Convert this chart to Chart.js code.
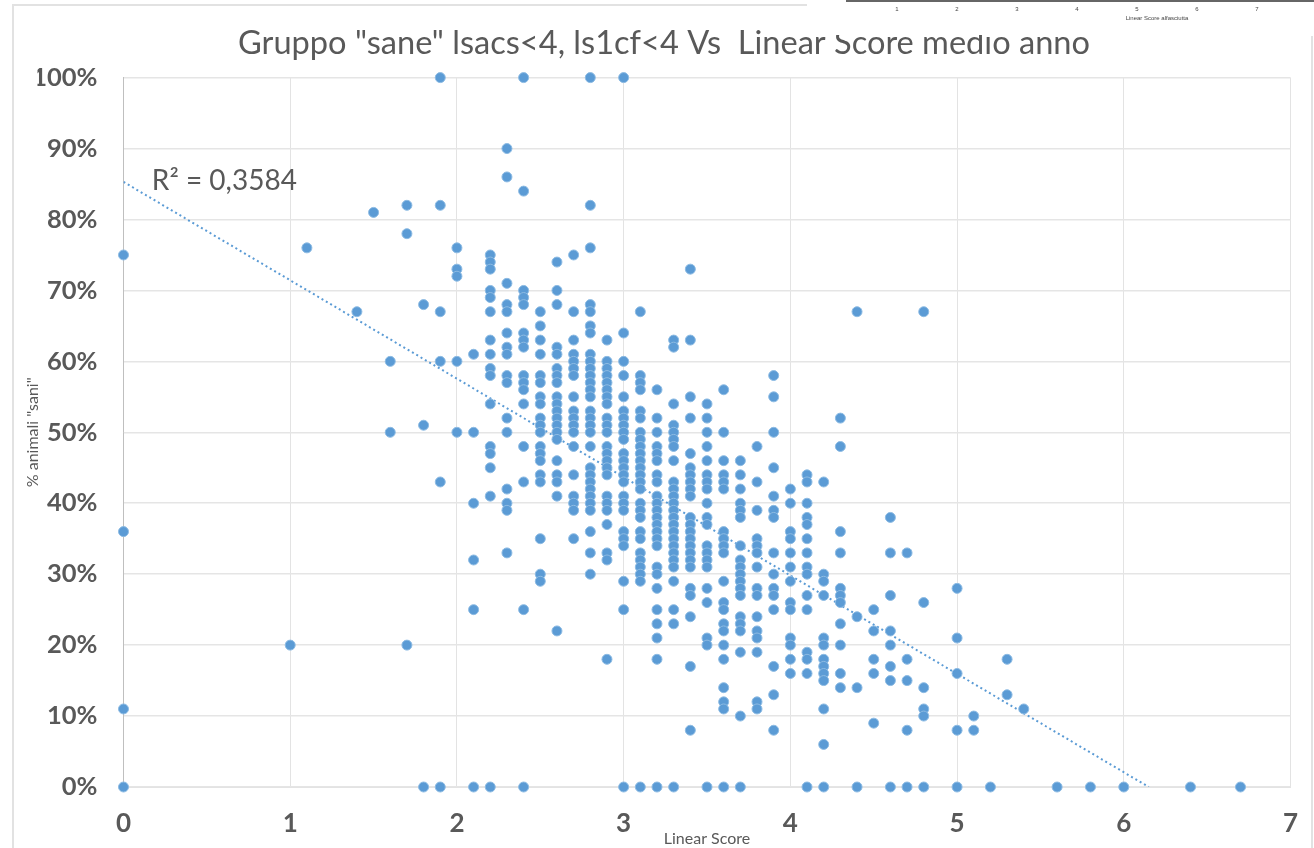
<!DOCTYPE html>
<html>
<head>
<meta charset="utf-8">
<title>Gruppo sane</title>
<script src="https://cdn.jsdelivr.net/npm/chart.js@4"></script>
<style>
  html, body { margin: 0; padding: 0; background: #fff; overflow: hidden; }
  canvas { display: block; }
</style>
</head>
<body>
<canvas id="chart" width="1314" height="848"></canvas>
<script>
'use strict';

const chartTitle = 'Gruppo "sane" lsacs<4, ls1cf<4 Vs  Linear Score medio anno';
const xAxisLabel = 'Linear Score';
const yAxisLabel = '% animali "sani"';
const fitLabel = 'R² = 0,3584';

// Linear Score columns, one list of % values per column
const scoreColumns = [0, 1, 1.1, 1.4, 1.5, 1.6, 1.7, 1.8, 1.9, 2, 2.1, 2.2, 2.3, 2.4, 2.5, 2.6, 2.7, 2.8, 2.9, 3,
    3.1, 3.2, 3.3, 3.4, 3.5, 3.6, 3.7, 3.8, 3.9, 4, 4.1, 4.2, 4.3, 4.4, 4.5, 4.6, 4.7, 4.8, 5, 5.1, 5.2, 5.3, 5.4,
    5.6, 5.8, 6, 6.4, 6.7];
const percentByColumn = [
    [75, 36, 11, 0],
    [20],
    [76],
    [67],
    [81],
    [60, 50],
    [82, 78, 20],
    [68, 51, 0],
    [100, 82, 67, 60, 43, 0],
    [76, 73, 72, 60, 50],
    [61, 50, 40, 32, 25, 0],
    [75, 74, 73, 70, 69, 67, 63, 61, 59, 58, 54, 48, 47, 45, 41, 0],
    [90, 86, 71, 68, 67, 64, 62, 61, 58, 57, 52, 50, 42, 40, 39, 33],
    [100, 84, 70, 69, 68, 64, 63, 62, 58, 57, 56, 54, 48, 43, 25, 0],
    [67, 65, 63, 61, 58, 57, 55, 54, 52, 51, 50, 48, 47, 46, 44, 43, 35, 30, 29],
    [74, 70, 68, 62, 61, 59, 58, 57, 55, 54, 53, 52, 51, 50, 49, 46, 44, 43, 41, 22],
    [75, 67, 63, 61, 60, 59, 58, 55, 53, 52, 51, 50, 48, 44, 41, 40, 39, 35],
    [100, 82, 76, 68, 67, 65, 64, 61, 60, 59, 58, 57, 56, 55, 53, 52, 51, 50, 48, 45, 44, 43, 42, 41, 40, 39, 36, 33, 30],
    [63, 60, 59, 58, 57, 56, 55, 54, 52, 51, 50, 48, 47, 46, 45, 44, 41, 40, 39, 37, 33, 32, 18],
    [100, 64, 60, 58, 55, 53, 52, 51, 50, 49, 47, 46, 45, 44, 43, 41, 40, 39, 36, 35, 34, 29, 25, 0],
    [67, 58, 57, 56, 53, 52, 50, 49, 48, 47, 46, 45, 44, 43, 42, 40, 39, 38, 36, 35, 33, 32, 31, 30, 29, 0],
    [56, 52, 50, 48, 47, 46, 44, 43, 41, 40, 39, 38, 37, 36, 35, 34, 31, 30, 28, 25, 23, 21, 18, 0],
    [63, 62, 54, 51, 50, 49, 48, 46, 43, 42, 41, 40, 39, 38, 37, 36, 35, 34, 33, 32, 31, 29, 25, 23, 0],
    [73, 63, 55, 52, 47, 45, 44, 43, 42, 41, 38, 37, 36, 35, 34, 33, 32, 31, 28, 27, 24, 17, 8],
    [54, 52, 50, 48, 46, 44, 43, 42, 40, 38, 37, 34, 33, 32, 31, 28, 26, 21, 20, 0],
    [56, 50, 46, 44, 43, 42, 36, 35, 34, 33, 29, 26, 25, 23, 22, 20, 18, 14, 12, 11, 0],
    [46, 44, 42, 40, 39, 38, 34, 32, 31, 30, 29, 28, 27, 24, 23, 22, 19, 10, 0],
    [48, 43, 39, 35, 34, 33, 31, 28, 27, 24, 22, 21, 19, 12, 11],
    [58, 55, 50, 45, 41, 39, 38, 33, 30, 28, 27, 25, 17, 13, 8],
    [42, 40, 36, 35, 33, 31, 29, 26, 25, 21, 20, 18, 16],
    [44, 43, 40, 38, 37, 35, 33, 31, 30, 27, 25, 19, 18, 16, 0],
    [43, 30, 29, 27, 21, 20, 18, 17, 16, 15, 11, 6, 0],
    [52, 48, 36, 33, 28, 27, 26, 23, 20, 16, 14],
    [67, 24, 14, 0],
    [25, 22, 18, 16, 9],
    [38, 33, 27, 22, 20, 17, 15, 0],
    [33, 18, 15, 8, 0],
    [67, 26, 14, 11, 10, 0],
    [28, 21, 16, 8, 0],
    [10, 8],
    [0],
    [18, 13],
    [11],
    [0],
    [0],
    [0],
    [0],
    [0]
];

// Ends of the linear trendline
const trendX = [0, 6.15];
const trendY = [85.3, 0];

// Piece of the neighbouring chart pasted at the top right
const pastedTicks = ['1', '2', '3', '4', '5', '6', '7'];
const pastedLabel = 'Linear Score alfasciutta';

const FONT = 'Lato, "Open Sans", sans-serif';
const TEXT_COLOR = '#595959';
const POINT_COLOR = '#5b9bd5';

const scatterPoints = [];
scoreColumns.forEach((score, i) => {
    percentByColumn[i].forEach(pct => scatterPoints.push({ x: score, y: pct }));
});
const trendPoints = trendX.map((x, i) => ({ x: x, y: trendY[i] }));

// Frame, clipped title and pasted fragment from the original screenshot
const sheetDecor = {
    id: 'sheetDecor',
    afterDraw(chart) {
        const ctx = chart.ctx;
        ctx.save();
        ctx.fillStyle = '#fff';
        ctx.fillRect(798, 0, 516, 35);

        ctx.strokeStyle = '#e2e2e2';
        ctx.lineWidth = 2;
        ctx.beginPath();
        ctx.moveTo(807, 5);
        ctx.lineTo(13, 5);
        ctx.lineTo(13, 848);
        ctx.moveTo(1312, 36);
        ctx.lineTo(1312, 848);
        ctx.stroke();

        ctx.strokeStyle = '#333';
        ctx.lineWidth = 1.5;
        ctx.beginPath();
        ctx.moveTo(846, 1);
        ctx.lineTo(1314, 1);
        ctx.stroke();

        ctx.fillStyle = '#444';
        ctx.textAlign = 'center';
        ctx.textBaseline = 'middle';
        ctx.font = '6px "Liberation Sans", sans-serif';
        pastedTicks.forEach((t, i) => ctx.fillText(t, 897 + i * 60, 9));
        ctx.fillText(pastedLabel, 1157, 18);
        ctx.restore();
    }
};

// R² label next to the start of the trendline
const fitText = {
    id: 'fitText',
    afterDatasetsDraw(chart) {
        const ctx = chart.ctx;
        ctx.save();
        ctx.font = '28px ' + FONT;
        ctx.fillStyle = TEXT_COLOR;
        ctx.textAlign = 'left';
        ctx.textBaseline = 'middle';
        ctx.fillText(fitLabel, chart.scales.x.getPixelForValue(0.17), chart.scales.y.getPixelForValue(85.5));
        ctx.restore();
    }
};

new Chart(document.getElementById('chart').getContext('2d'), {
    type: 'scatter',
    data: {
        datasets: [
            {
                label: 'Punti',
                data: scatterPoints,
                backgroundColor: POINT_COLOR,
                borderColor: '#8dbbe3',
                borderWidth: 1,
                pointRadius: 5,
                clip: false,
                order: 1
            },
            {
                label: 'Tendenza',
                data: trendPoints,
                showLine: true,
                pointRadius: 0,
                borderColor: POINT_COLOR,
                borderWidth: 2,
                borderDash: [2, 3],
                order: 2
            }
        ]
    },
    options: {
        responsive: false,
        animation: false,
        layout: { padding: { left: 37.5, right: 23.5, top: 0, bottom: 0 } },
        scales: {
            x: {
                type: 'linear',
                min: 0,
                max: 7,
                afterFit(scale) { scale.height = 61; scale.paddingLeft = 0; scale.paddingRight = 0; },
                ticks: {
                    stepSize: 1,
                    color: TEXT_COLOR,
                    padding: 21,
                    maxRotation: 0,
                    font: { family: FONT, size: 26, weight: 'bold' }
                },
                grid: { color: '#e3e3e3', lineWidth: 1, drawTicks: false },
                border: { color: '#e3e3e3' },
                title: {
                    display: true,
                    text: xAxisLabel,
                    color: TEXT_COLOR,
                    font: { family: FONT, size: 16 },
                    padding: { top: -22, bottom: 0 }
                }
            },
            y: {
                min: 0,
                max: 100,
                afterFit(scale) { scale.width = 86; },
                ticks: {
                    stepSize: 10,
                    color: TEXT_COLOR,
                    padding: 26,
                    font: { family: FONT, size: 25.5, weight: 'bold' },
                    callback: v => v + '%'
                },
                grid: { color: '#e5e5e5', lineWidth: 1.5, drawTicks: false },
                border: { color: '#bfbfbf' },
                title: {
                    display: true,
                    text: yAxisLabel,
                    color: TEXT_COLOR,
                    font: { family: FONT, size: 16 },
                    padding: { top: -14, bottom: 0 }
                }
            }
        },
        plugins: {
            legend: { display: false },
            tooltip: { enabled: false },
            title: {
                display: true,
                text: chartTitle,
                color: TEXT_COLOR,
                font: { family: FONT, size: 32.6, weight: 'normal' },
                padding: { top: 24, bottom: 14.5 }
            }
        }
    },
    plugins: [fitText, sheetDecor]
});
</script>
</body>
</html>
